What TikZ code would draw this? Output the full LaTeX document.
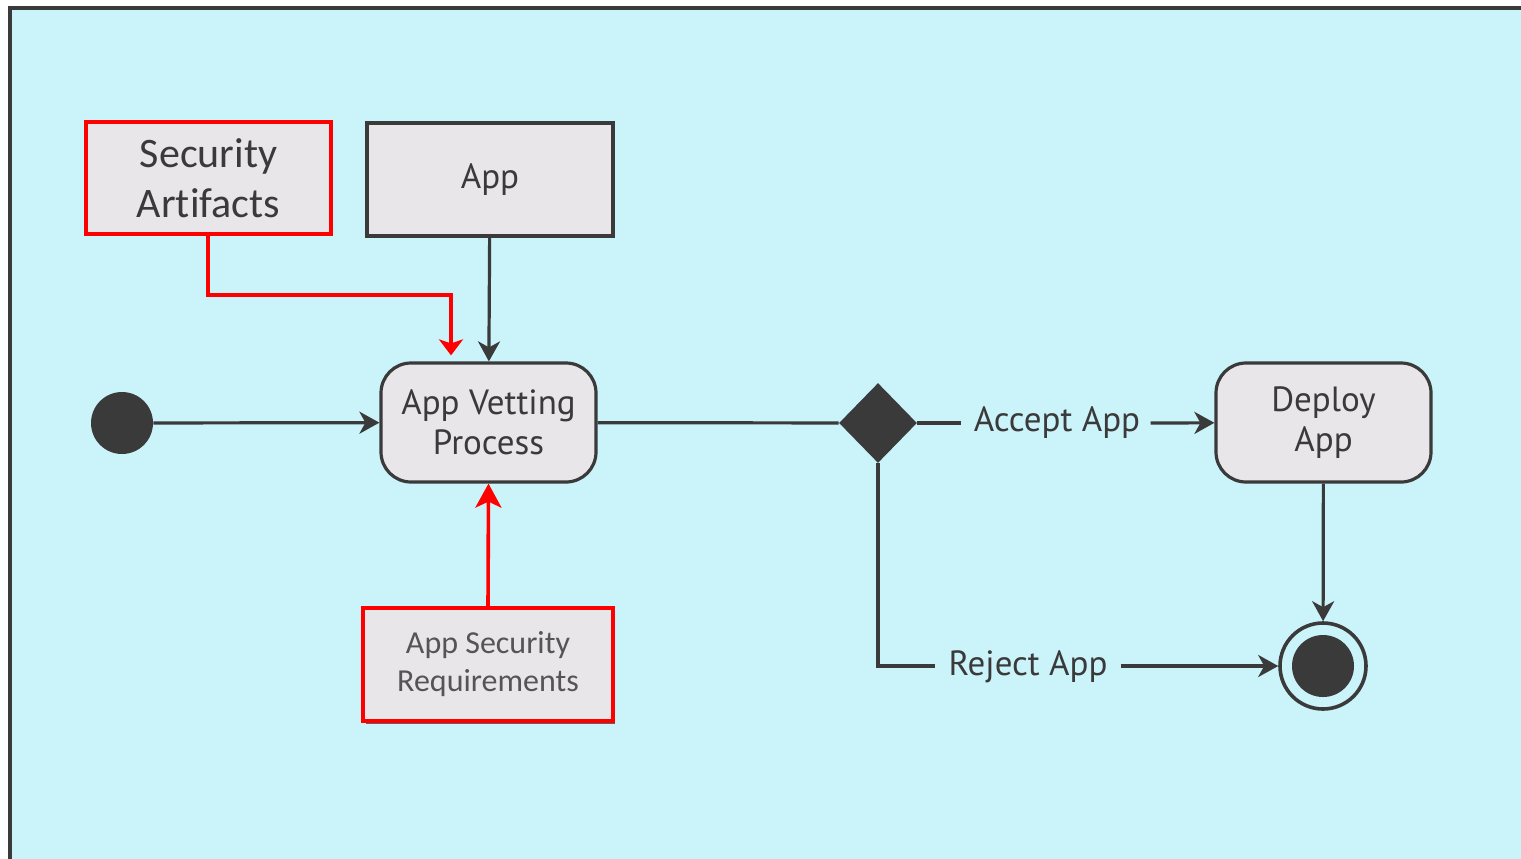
\documentclass[tikz,border=0pt]{standalone}
\usepackage{fontspec}
\setmainfont{Carlito}[Ligatures=NoCommon]
\newfontfamily\dinfont{PT Sans}
\usetikzlibrary{arrows.meta,shapes.geometric}
\definecolor{ink}{HTML}{3A3A3A}
\definecolor{sky}{HTML}{CBF3FA}
\definecolor{boxfill}{HTML}{E8E6E8}
\definecolor{alert}{HTML}{FF0000}
\definecolor{softink}{HTML}{555555}
\tikzset{
  flow/.style={draw=ink, line width=1.6pt, -{Stealth[length=10pt,width=11pt,inset=3pt]}},
  plainline/.style={draw=ink, line width=1.6pt},
  redflow/.style={draw=alert, line width=1.8pt, -{Stealth[length=8pt,width=12pt,inset=2pt]}},
  artifact/.style={draw=ink, line width=1.6pt, fill=boxfill, rectangle, inner sep=0pt},
  redartifact/.style={draw=alert, line width=1.8pt, fill=boxfill, rectangle, inner sep=0pt},
  activity/.style={draw=ink, line width=1.6pt, fill=boxfill, rectangle, rounded corners=15pt, inner sep=0pt,
    minimum width=107.5pt, minimum height=59.5pt, align=center, text=ink,
    font=\dinfont\fontsize{17.5}{20}\selectfont},
  guard/.style={text=ink, font=\dinfont\fontsize{17.5}{20}\selectfont, inner sep=0pt}
}
\begin{document}
\begin{tikzpicture}[x=0.5pt,y=-0.5pt]
  \useasboundingbox (0,0) rectangle (1521,858);
  \clip (0,0) rectangle (1521,858);
  % canvas frame
  \fill[white] (0,0) rectangle (1521,858);
  \draw[draw=ink, line width=2pt, fill=sky] (10,8) rectangle (1560,900);

  % object nodes
  \node[redartifact, minimum width=122.5pt, minimum height=56pt, align=center, text=ink,
        font=\fontsize{21}{25}\selectfont] (sa) at (208.5,178) {Security\\Artifacts};
  \node[artifact, minimum width=123pt, minimum height=56.5pt, text=ink,
        font=\dinfont\fontsize{17.5}{20}\selectfont] (app) at (490,179.5) {App};
  \fill[ink!80] (366,617) rectangle (615,724);
  \node[redartifact, minimum width=125pt, minimum height=56.5pt, align=center, text=softink,
        font=\fontsize{16}{19}\selectfont] (req) at (488,664.5) {App Security\\Requirements};

  % activities
  \node[activity] (vet) at (488.5,422.5) {App Vetting\\Process};
  \node[activity] (deploy) at (1323.5,422.5) {Deploy\\App};

  % start, decision, end
  \node[circle, fill=ink, minimum size=31pt, inner sep=0pt] (start) at (122,423) {};
  \node[diamond, fill=ink, minimum width=39pt, minimum height=40pt, inner sep=0pt] (dec) at (878,423) {};
  \node[circle, draw=ink, line width=1.8pt, minimum size=43pt, inner sep=0pt] (stop) at (1323,666) {};
  \fill[ink] (stop.center) circle (31);

  % guard labels
  \node[guard] (acc) at (1057,423) {Accept App};
  \node[guard] (rej) at (1028,667) {Reject App};

  % control flow
  \draw[flow] (start) -- (vet);
  \draw[flow] (app) -- (vet);
  \draw[plainline] (vet) -- (dec);
  \draw[plainline] (dec.east) -- ([xshift=-6pt]acc.west |- dec.east);
  \draw[flow] ([xshift=5pt]acc.east |- dec.east) -- (deploy);
  \draw[flow] (deploy) -- (stop);
  \coordinate (bend) at (878,666);
  \draw[plainline] (dec.south) -- (bend) -- ([xshift=-6.5pt]rej.west |- bend);
  \draw[flow] ([xshift=6.5pt]rej.east |- bend) -- (stop);

  % security inputs
  \coordinate (sadrop) at (208,295);
  \coordinate (saturn) at (451,295);
  \draw[redflow] (sa.south -| sadrop) -- (sadrop) -- (saturn) -- ([yshift=3pt]saturn |- vet.north);
  \draw[alert, line width=1.8pt, -{Stealth[length=12pt,width=13pt,inset=3pt]}] (req.north) -- (vet.south);
\end{tikzpicture}
\end{document}
